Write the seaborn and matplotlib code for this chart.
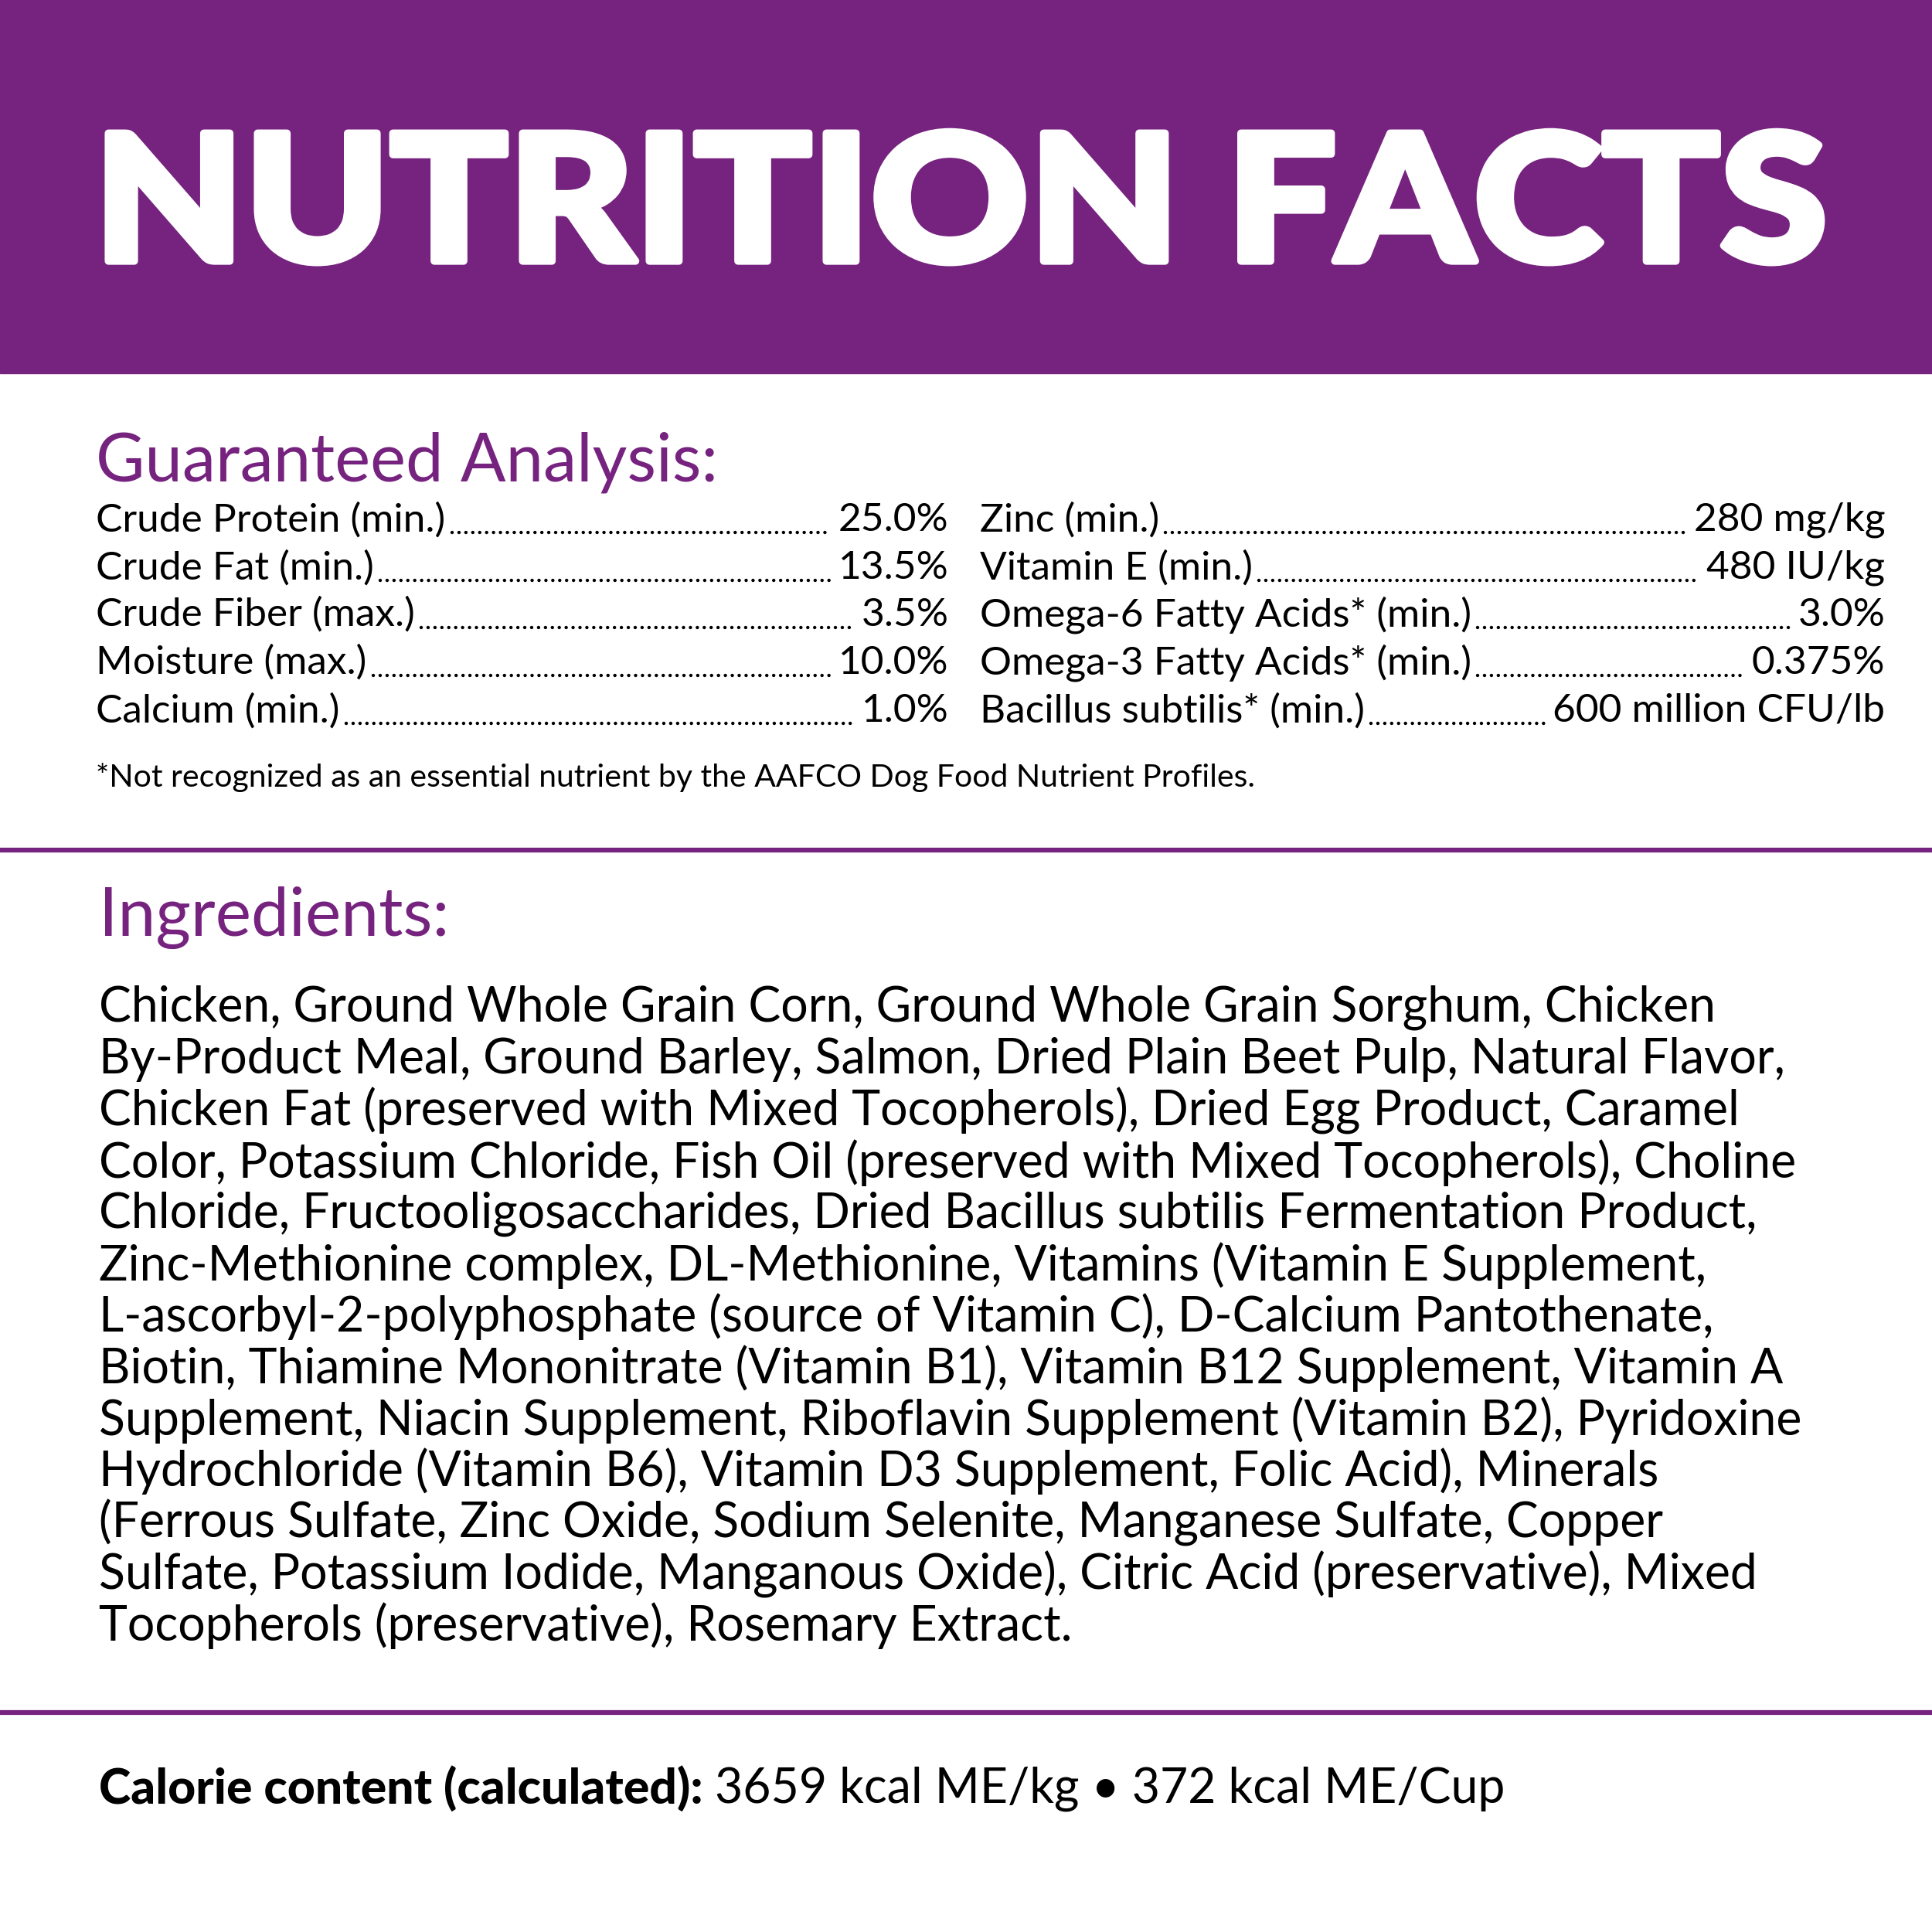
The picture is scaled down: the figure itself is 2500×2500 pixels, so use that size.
import matplotlib
matplotlib.use("Agg")
import matplotlib.pyplot as plt
import seaborn as sns
from matplotlib.textpath import TextPath
from matplotlib.patches import PathPatch
from matplotlib.font_manager import FontProperties
from matplotlib.transforms import Affine2D

sns.set_theme(style="white")
plt.rcParams['font.family'] = ['Lato', 'DejaVu Sans']

PURPLE = "#76237F"
title = "NUTRITION FACTS"
left_names = ["Crude Protein (min.)", "Crude Fat (min.)", "Crude Fiber (max.)", "Moisture (max.)", "Calcium (min.)"]
left_values = ["25.0%", "13.5%", "3.5%", "10.0%", "1.0%"]
right_names = ["Zinc (min.)", "Vitamin E (min.)", "Omega-6 Fatty Acids* (min.)", "Omega-3 Fatty Acids* (min.)", "Bacillus subtilis* (min.)"]
right_values = ["280 mg/kg", "480 IU/kg", "3.0%", "0.375%", "600 million CFU/lb"]
footnote = "*Not recognized as an essential nutrient by the AAFCO Dog Food Nutrient Profiles."
ingredient_lines = [
    "Chicken, Ground Whole Grain Corn, Ground Whole Grain Sorghum, Chicken",
    "By-Product Meal, Ground Barley, Salmon, Dried Plain Beet Pulp, Natural Flavor,",
    "Chicken Fat (preserved with Mixed Tocopherols), Dried Egg Product, Caramel",
    "Color, Potassium Chloride, Fish Oil (preserved with Mixed Tocopherols), Choline",
    "Chloride, Fructooligosaccharides, Dried Bacillus subtilis Fermentation Product,",
    "Zinc-Methionine complex, DL-Methionine, Vitamins (Vitamin E Supplement,",
    "L-ascorbyl-2-polyphosphate (source of Vitamin C), D-Calcium Pantothenate,",
    "Biotin, Thiamine Mononitrate (Vitamin B1), Vitamin B12 Supplement, Vitamin A",
    "Supplement, Niacin Supplement, Riboflavin Supplement (Vitamin B2), Pyridoxine",
    "Hydrochloride (Vitamin B6), Vitamin D3 Supplement, Folic Acid), Minerals",
    "(Ferrous Sulfate, Zinc Oxide, Sodium Selenite, Manganese Sulfate, Copper",
    "Sulfate, Potassium Iodide, Manganous Oxide), Citric Acid (preservative), Mixed",
    "Tocopherols (preservative), Rosemary Extract.",
]
cal_bold = "Calorie content (calculated):"
cal_rest = " 3659 kcal ME/kg \u2022 372 kcal ME/Cup"

fig = plt.figure(figsize=(25, 25), dpi=100)
ax = fig.add_axes([0, 0, 1, 1])
ax.set_xlim(0, 1568)
ax.set_ylim(1568, 0)
ax.axis("off")

ax.axhspan(0, 303, color=PURPLE, zorder=0)
# title as a path, stretched to the reference box
tp = TextPath((0, 0), title, size=100, prop=FontProperties(family="Lato", weight="black"))
ext = tp.get_extents()
x0, x1, ytop, ybot = 88, 1478, 107, 213
sx = (x1 - x0) / ext.width
sy = (ybot - ytop) / ext.height
tr = Affine2D().translate(-ext.x0, -ext.y0).scale(sx, -sy).translate(x0, ybot)
ax.add_patch(PathPatch(tr.transform_path(tp), facecolor="white", edgecolor="white", lw=7, joinstyle="round"))

ax.text(78, 375, "Guaranteed Analysis:", color=PURPLE, fontsize=62.5, va="center")
rows_y = [422, 461, 499, 538, 577]
fig.canvas.draw()
r = fig.canvas.get_renderer()
inv = ax.transData.inverted()

def row(x0, x1, name, val, y):
    t1 = ax.text(x0, y, name, fontsize=37, va="center", color="black")
    t2 = ax.text(x1, y, val, fontsize=37, va="center", ha="right", color="black")
    b1 = t1.get_window_extent(r); b2 = t2.get_window_extent(r)
    xa = inv.transform((b1.x1, 0))[0] + 5
    xb = inv.transform((b2.x0, 0))[0] - 6
    ax.plot([xa, xb], [y + 10, y + 10], color="black", lw=3.2, linestyle=(0, (0.01, 2.0)),
            dash_capstyle="round")

for n, v, y in zip(left_names, left_values, rows_y):
    row(78, 770, n, v, y)
for n, v, y in zip(right_names, right_values, rows_y):
    row(795, 1530, n, v, y)

ax.text(78, 631, footnote, fontsize=29.5, va="center", color="black")
ax.plot([0, 1568], [690, 690], color=PURPLE, lw=4.5)
ax.text(80, 745, "Ingredients:", color=PURPLE, fontsize=63, va="center")
for i, line in enumerate(ingredient_lines):
    ax.text(80, 818 + i * 41.8, line, fontsize=45, va="center", color="black")
ax.plot([0, 1568], [1390, 1390], color=PURPLE, lw=4.5)
tb = ax.text(80, 1452, cal_bold, fontsize=45, fontweight="black", va="center", color="black")
fig.canvas.draw()
bx = inv.transform((tb.get_window_extent(r).x1, 0))[0]
ax.text(bx, 1452, cal_rest, fontsize=45, va="center", color="black")

fig.savefig("out.png", dpi=100, facecolor="white")
